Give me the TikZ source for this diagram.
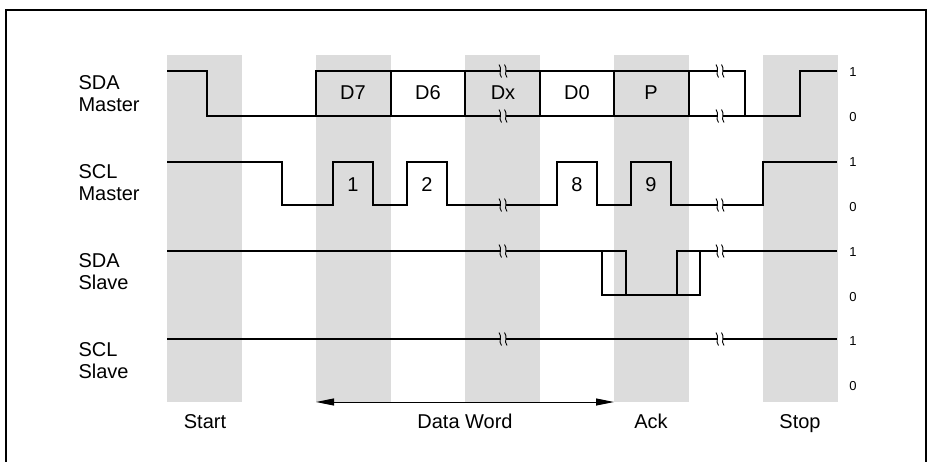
\documentclass[tikz,border=0pt]{standalone}
\usepackage{fontspec}
\setmainfont{Liberation Sans}
\usepackage{xcolor}
\usepackage{tikz}
\usetikzlibrary{arrows.meta,calc}
\definecolor{band}{RGB}{220,220,220}

% break mark on a signal line: position, background colour
\newcommand{\sigbreak}[2]{%
  \begin{scope}[shift={#1}]
    \fill[#2] (-2.5,-5) rectangle (2.5,5);
    \draw[brk] (-4,-6.5) .. controls (-0.5,-2.5) and (-5,2.5) .. (-1.5,6.5);
    \draw[brk] (1.5,-6.5) .. controls (5,-2.5) and (0.5,2.5) .. (4,6.5);
  \end{scope}}

\begin{document}
\begin{tikzpicture}[x=1pt, y=-1pt,
    sig/.style={line width=2pt, line join=miter},
    brk/.style={line width=0.9pt},
    frame/.style={line width=2.5pt},
    lbl/.style={font=\fontsize{20}{22}\selectfont, align=left, anchor=west},
    txt/.style={font=\fontsize{20}{22}\selectfont},
    phase/.style={font=\fontsize{20}{22}\selectfont, anchor=base},
    lvl/.style={font=\fontsize{13}{14}\selectfont},
    arr/.style={{Triangle[length=18pt,width=7pt]}-{Triangle[length=18pt,width=7pt]}, line width=1pt}
  ]
  \useasboundingbox (0,0) rectangle (928,461);
  \draw[frame] (6,470) |- (926,10) -- (926,470);
  % bit slots
  \foreach \x in {167,316,465,614,763}
    \fill[band] (\x,55) rectangle ++(75,347);

  % SDA Master
  \draw[sig] (167,71) -| (207,116) -- (800,116) |- (837,71);
  \draw[sig] (316,116) |- (745,71) -- (745,116);
  \foreach \x in {391,465,540,614,689}
    \draw[sig] (\x,71) -- (\x,116);
  \sigbreak{(503,71)}{band}
  \sigbreak{(503,116)}{band}
  \sigbreak{(720,71)}{white}
  \sigbreak{(720,116)}{white}
  \foreach \x/\b in {353/D7,428/D6,503/Dx,577/D0,651/P}
    \node[txt] (bit\b) at (\x,93) {\b};

  % SCL Master
  \draw[sig] (167,162) -| (282,205) -| (333,162) -| (373,205) -| (407,162)
    -| (447,205) -| (557,162) -| (597,205) -| (631,162) -| (671,205)
    -| (763,162) -- (837,162);
  \sigbreak{(503,205)}{band}
  \sigbreak{(720,205)}{white}
  \foreach \x/\n in {353/1,427/2,577/8,651/9}
    \node[txt] (clk\n) at (\x,185) {\n};

  % SDA Slave
  \draw[sig] (167,251) -| (626,295);
  \draw[sig] (602,251) |- (700,295) -- (700,251);
  \draw[sig] (677,295) |- (837,251);
  \sigbreak{(503,251)}{band}
  \sigbreak{(720,251)}{white}

  % SCL Slave
  \draw[sig] (167,339) -- (837,339);
  \sigbreak{(503,339)}{band}
  \sigbreak{(720,339)}{white}

  % signal names
  \node[lbl] (sdam) at (75,94) {SDA\\Master};
  \node[lbl] (sclm) at (75,183) {SCL\\Master};
  \node[lbl] (sdas) at (75,272) {SDA\\Slave};
  \node[lbl] (scls) at (75,361) {SCL\\Slave};

  % logic levels
  \foreach \r/\y in {a/72,b/162,c/252,d/341} {
    \node[lvl] (hi\r) at (853,\y) {1};
    \node[lvl] (lo\r) at (853,\y+45) {0};
  }

  % phases
  \coordinate (dwl) at (316,402);
  \coordinate (dwr) at (614,402);
  \draw[arr] (dwl) -- (dwr);
  \node[phase] (start) at (205,428) {Start};
  \node[phase] (dword) at (465,428) {Data Word};
  \node[phase] (ack) at (651,428) {Ack};
  \node[phase] (stop) at (800,428) {Stop};
\end{tikzpicture}
\end{document}
